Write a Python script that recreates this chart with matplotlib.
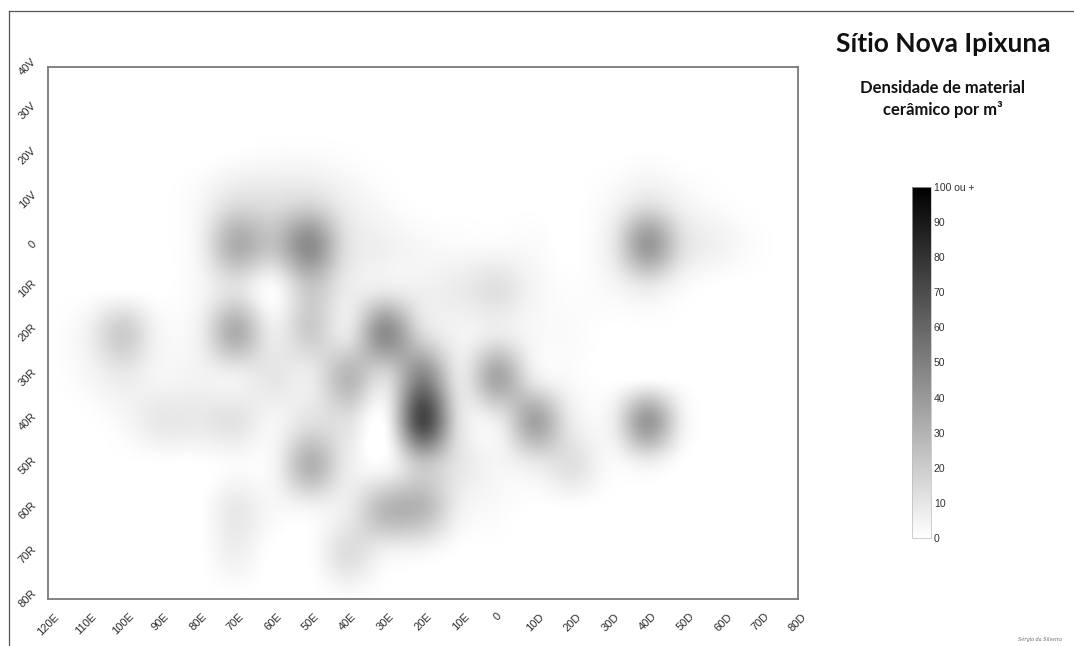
import numpy as np
import matplotlib
matplotlib.use('Agg')
import matplotlib.pyplot as plt
from matplotlib.colors import LinearSegmentedColormap
from matplotlib.lines import Line2D

# ------------------------------------------------------------
# dados: densidade de material cerâmico (peças/m³) por quadra 10x10
# colunas: 120E ... 0 ... 80D   |  linhas: 40V ... 0 ... 80R
# ------------------------------------------------------------
x_vals = np.arange(-120, 81, 10)        # E negativo, D positivo
y_vals = np.arange(40, -81, -10)        # V positivo, R negativo

densidade = np.array([
    # 120E 110 100  90  80  70  60  50  40  30  20  10   0  10  20  30  40  50  60  70  80D
    [0,  0,  0,  0,  0,  0,  0,  0,  0,  0,  0,  0,  0,  0,  0,  0,  0,  0,  0,  0,  0],  # 40V
    [0,  0,  0,  0,  0,  0,  0,  0,  0,  0,  0,  0,  0,  0,  0,  0,  0,  0,  0,  0,  0],  # 30V
    [0,  0,  0,  0,  0,  1,  2,  2,  1,  0,  0,  0,  0,  0,  0,  0,  1,  0,  0,  0,  0],  # 20V
    [0,  0,  0,  0,  3, 12, 12, 14,  6,  2,  0,  0,  0,  0,  0,  3, 10,  4,  1,  0,  0],  # 10V
    [0,  0,  0,  0,  5, 32, 25, 45, 12,  6,  3,  2,  2,  2,  0,  8, 40, 12,  5,  1,  0],  # 0
    [0,  0,  0,  0,  3, 12,  2, 22,  8,  8,  6,  8, 12,  4,  1,  3,  8,  2,  0,  0,  0],  # 10R
    [0,  5, 20,  4,  6, 32,  8, 20, 10, 45, 15,  5,  8,  3,  2,  0,  0,  0,  0,  0,  0],  # 20R
    [0,  3,  8,  4,  5,  6, 10,  8, 28, 15, 48, 10, 35,  8,  2,  0,  0,  0,  0,  0,  0],  # 30R
    [0,  0,  3,  9,  9, 11,  4, 12, 12,  3, 72, 12,  8, 36,  8,  6, 40,  5,  0,  0,  0],  # 40R
    [0,  0,  0,  0,  0,  2,  4, 30,  8,  3, 22, 10,  4,  8, 12,  2,  5,  0,  0,  0,  0],  # 50R
    [0,  0,  0,  0,  0,  9,  3,  4,  8, 28, 28,  6,  2,  0,  0,  0,  0,  0,  0,  0,  0],  # 60R
    [0,  0,  0,  0,  0,  6,  0,  1, 13,  5,  3,  0,  0,  0,  0,  0,  0,  0,  0,  0,  0],  # 70R
    [0,  0,  0,  0,  0,  0,  0,  0,  1,  0,  0,  0,  0,  0,  0,  0,  0,  0,  0,  0,  0],  # 80R
], dtype=float)

cbar_ticks = [0, 10, 20, 30, 40, 50, 60, 70, 80, 90, 100]
cbar_labels = ['0', '10', '20', '30', '40', '50', '60', '70', '80', '90', '100 ou +']


def lab_x(v):
    if v < 0:
        return f'{-v}E'
    if v > 0:
        return f'{v}D'
    return '0'


def lab_y(v):
    if v > 0:
        return f'{v}V'
    if v < 0:
        return f'{-v}R'
    return '0'


# ------------------------------------------------------------
W, H = 1074, 646
fig = plt.figure(figsize=(W / 100, H / 100), dpi=100)
fig.patch.set_facecolor('white')

# moldura externa (topo + esquerda)
fig.add_artist(Line2D([9 / W, 1.0], [1 - 11 / H, 1 - 11 / H], color='#555555', lw=0.9))
fig.add_artist(Line2D([9 / W, 9 / W], [0.0, 1 - 11 / H], color='#555555', lw=0.9))

ax = fig.add_axes([48 / W, 1 - 599 / H, 750 / W, 532 / H])
cmap = LinearSegmentedColormap.from_list('cinza', ['#ffffff', '#000000'])
im = ax.imshow(densidade, cmap=cmap, vmin=0, vmax=100,
               extent=[x_vals[0] - 5, x_vals[-1] + 5, y_vals[-1] - 5, y_vals[0] + 5],
               origin='upper', interpolation='catrom', aspect='auto')
ax.set_xlim(-120, 80)
ax.set_ylim(-80, 40)

spine_c = '#7a7a7a'
for s in ax.spines.values():
    s.set_color(spine_c)
    s.set_linewidth(1.3)

# rótulos a cada 10, traços a cada 20
ax.set_xticks(x_vals)
ax.set_xticklabels([lab_x(v) for v in x_vals], rotation=45, ha='center', va='top',
                   family='Liberation Sans')
ax.set_yticks(y_vals)
ax.set_yticklabels([lab_y(v) for v in y_vals], rotation=45, ha='right', va='center',
                   family='Liberation Sans')
ax.tick_params(which='major', length=0, labelsize=8, labelcolor='#2a2a2a')
ax.tick_params(axis='x', which='major', pad=9)
ax.tick_params(axis='y', which='major', pad=7)
ax.set_xticks(np.arange(-120, 81, 20), minor=True)
ax.set_yticks(np.arange(-80, 41, 20), minor=True)
ax.tick_params(which='minor', direction='out', length=8, width=1.2, color=spine_c,
               top=True, right=True, bottom=True, left=True)

# título
fig.text(943 / W, 1 - 44 / H, 'Sítio Nova Ipixuna', ha='center', va='center',
         fontsize=19, fontweight='bold', family='Lato', color='#111111')
fig.text(943 / W, 1 - 99 / H, 'Densidade de material\ncerâmico por m³', ha='center',
         va='center', fontsize=12, fontweight='bold', family='Lato', color='#111111',
         linespacing=1.3)

# barra de cores
cax = fig.add_axes([912 / W, 1 - 538 / H, 19 / W, 351 / H])
cb = fig.colorbar(im, cax=cax, ticks=cbar_ticks)
cb.ax.set_yticklabels(cbar_labels, family='Liberation Sans')
cb.ax.tick_params(length=0, pad=2, labelsize=7.5, labelcolor='#333333')
cb.outline.set_edgecolor('#bbbbbb')
cb.outline.set_linewidth(0.5)

fig.text(1040 / W, 1 - 639 / H, 'Sérgio da Silveira', ha='center', va='center',
         fontsize=3.5, style='italic', family='DejaVu Serif', color='#666666')

fig.savefig('out.png', dpi=100)
